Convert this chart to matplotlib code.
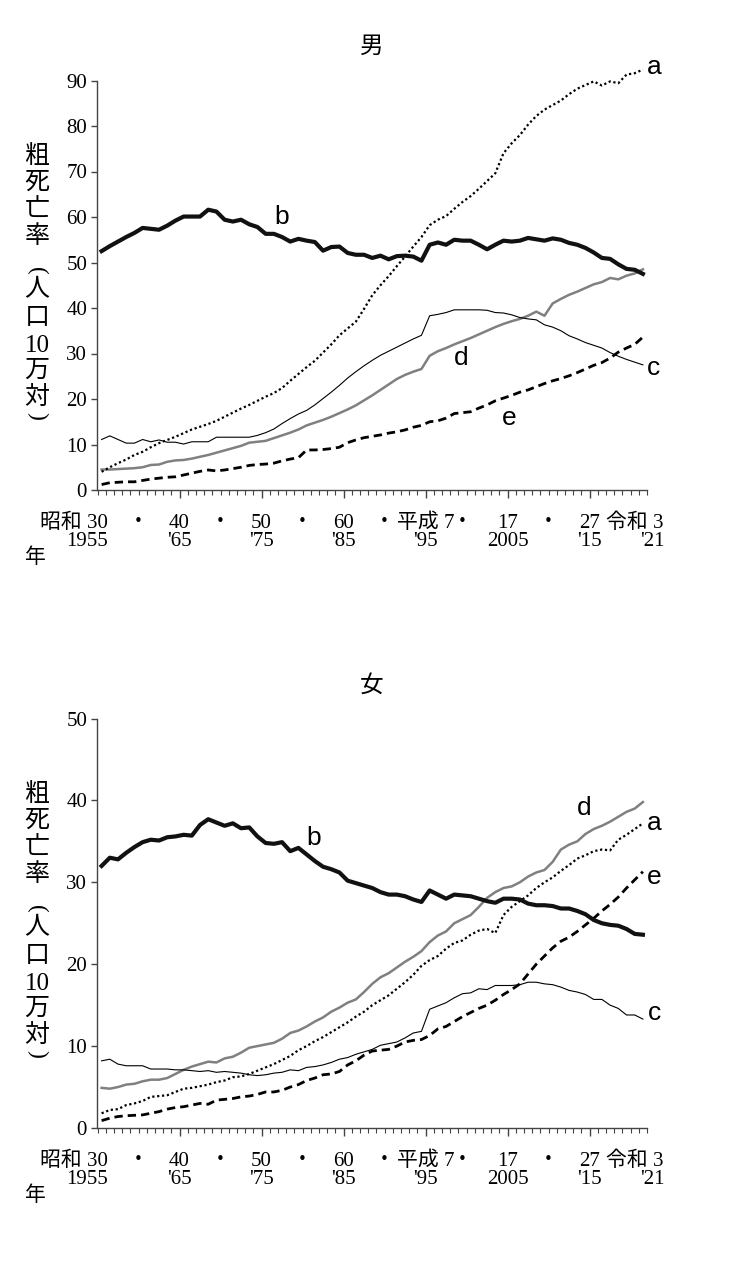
import numpy as np
import matplotlib
matplotlib.use("Agg")
import matplotlib.pyplot as plt
from matplotlib.transforms import offset_copy

# serif digits, japanese falls back to Noto CJK
plt.rcParams['font.family'] = ['Liberation Serif', 'Noto Sans CJK JP']

years = np.arange(1955, 2022)

# 男 (rate per 100,000)
male_a = [4.0, 5.0, 5.9, 6.7, 7.7, 8.4, 9.4, 10.3, 11.0, 11.7,
          12.5, 13.3, 13.9, 14.5, 15.2, 16.1, 17.0, 17.9, 18.7, 19.6,
          20.5, 21.3, 22.4, 24.0, 25.5, 27.0, 28.4, 30.2, 32.0, 34.0,
          35.5, 37.0, 39.8, 42.8, 45.0, 47.0, 49.2, 51.3, 53.5, 55.6,
          58.2, 59.4, 60.2, 61.8, 63.3, 64.6, 66.2, 67.9, 69.6, 74.0,
          76.2, 78.0, 80.3, 82.2, 83.6, 84.6, 85.6, 87.0, 88.2, 89.0,
          89.8, 88.9, 89.8, 89.4, 91.3, 91.6, 92.4]
male_b = [52.5, 53.6, 54.6, 55.6, 56.5, 57.6, 57.4, 57.2, 58.1, 59.2,
          60.1, 60.1, 60.1, 61.6, 61.2, 59.4, 59.0, 59.4, 58.4, 57.8,
          56.3, 56.3, 55.6, 54.6, 55.2, 54.8, 54.5, 52.6, 53.4, 53.5,
          52.1, 51.7, 51.7, 51.0, 51.5, 50.7, 51.4, 51.5, 51.3, 50.4,
          53.9, 54.4, 53.9, 55.0, 54.8, 54.8, 53.9, 52.9, 53.9, 54.8,
          54.6, 54.8, 55.4, 55.1, 54.8, 55.3, 55.0, 54.3, 53.9, 53.2,
          52.2, 51.0, 50.8, 49.6, 48.6, 48.4, 47.5]
male_c = [11.1, 11.9, 11.1, 10.3, 10.3, 11.1, 10.6, 11.0, 10.5, 10.5,
          10.1, 10.6, 10.6, 10.6, 11.6, 11.6, 11.6, 11.6, 11.6, 12.0,
          12.6, 13.4, 14.6, 15.7, 16.7, 17.5, 18.7, 20.1, 21.5, 23.0,
          24.6, 26.0, 27.3, 28.5, 29.6, 30.5, 31.4, 32.3, 33.2, 34.0,
          38.3, 38.6, 39.0, 39.6, 39.6, 39.6, 39.6, 39.5, 39.0, 38.9,
          38.5, 37.9, 37.6, 37.4, 36.3, 35.8, 35.0, 33.9, 33.2, 32.4,
          31.8, 31.2, 30.2, 29.4, 28.7, 28.1, 27.5]
male_d = [4.5, 4.5, 4.6, 4.7, 4.8, 5.0, 5.5, 5.6, 6.2, 6.5,
          6.6, 6.9, 7.3, 7.7, 8.2, 8.7, 9.2, 9.7, 10.4, 10.6,
          10.8, 11.4, 12.0, 12.6, 13.3, 14.2, 14.8, 15.4, 16.1, 16.9,
          17.7, 18.6, 19.7, 20.8, 22.0, 23.2, 24.4, 25.3, 26.0, 26.6,
          29.5, 30.5, 31.2, 32.0, 32.7, 33.4, 34.2, 35.0, 35.8, 36.5,
          37.1, 37.6, 38.3, 39.2, 38.3, 41.0, 42.0, 42.9, 43.6, 44.4,
          45.2, 45.7, 46.6, 46.3, 47.1, 47.6, 48.5]
male_e = [1.2, 1.6, 1.7, 1.8, 1.8, 2.1, 2.4, 2.6, 2.8, 2.9,
          3.3, 3.7, 4.1, 4.4, 4.2, 4.4, 4.7, 5.0, 5.4, 5.6,
          5.7, 5.9, 6.4, 6.8, 7.1, 8.8, 8.8, 8.9, 9.1, 9.4,
          10.4, 11.0, 11.5, 11.8, 12.1, 12.5, 12.8, 13.2, 13.8, 14.2,
          15.0, 15.2, 15.8, 16.8, 17.0, 17.2, 18.0, 18.7, 19.6, 20.2,
          20.8, 21.5, 22.0, 22.7, 23.4, 24.0, 24.5, 25.1, 25.8, 26.6,
          27.4, 28.0, 29.0, 30.3, 31.2, 32.0, 33.6]

# 女
female_a = [1.8, 2.2, 2.3, 2.8, 3.0, 3.3, 3.8, 3.9, 4.0, 4.4,
            4.8, 4.9, 5.1, 5.3, 5.6, 5.8, 6.2, 6.3, 6.6, 7.0,
            7.4, 7.8, 8.3, 8.8, 9.5, 10.0, 10.6, 11.1, 11.7, 12.3,
            12.9, 13.6, 14.2, 15.0, 15.6, 16.2, 17.0, 17.8, 18.7, 19.8,
            20.5, 21.0, 21.9, 22.6, 22.9, 23.6, 24.1, 24.3, 23.8, 26.0,
            27.0, 27.7, 28.4, 29.3, 30.0, 30.6, 31.4, 32.1, 32.9, 33.3,
            33.8, 34.0, 33.9, 35.2, 35.8, 36.5, 37.2]
female_b = [32.0, 33.0, 32.8, 33.6, 34.3, 34.9, 35.2, 35.1, 35.5, 35.6,
            35.8, 35.7, 37.0, 37.7, 37.3, 36.9, 37.2, 36.6, 36.7, 35.6,
            34.8, 34.7, 34.9, 33.8, 34.2, 33.4, 32.6, 31.9, 31.6, 31.2,
            30.2, 29.9, 29.6, 29.3, 28.8, 28.5, 28.5, 28.3, 27.9, 27.6,
            29.0, 28.5, 28.0, 28.5, 28.4, 28.3, 28.0, 27.7, 27.5, 28.0,
            28.0, 27.9, 27.4, 27.2, 27.2, 27.1, 26.8, 26.8, 26.5, 26.1,
            25.4, 25.0, 24.8, 24.7, 24.3, 23.7, 23.6]
female_c = [8.2, 8.4, 7.8, 7.6, 7.6, 7.6, 7.2, 7.2, 7.2, 7.1,
            7.1, 7.0, 6.9, 7.0, 6.8, 6.9, 6.8, 6.7, 6.5, 6.4,
            6.5, 6.7, 6.8, 7.1, 7.0, 7.4, 7.5, 7.7, 8.0, 8.4,
            8.6, 9.0, 9.3, 9.6, 10.1, 10.3, 10.5, 11.0, 11.6, 11.8,
            14.5, 14.9, 15.3, 15.9, 16.4, 16.5, 17.0, 16.9, 17.4, 17.4,
            17.4, 17.5, 17.8, 17.8, 17.6, 17.5, 17.2, 16.8, 16.6, 16.3,
            15.7, 15.7, 15.0, 14.6, 13.8, 13.8, 13.3]
female_d = [4.9, 4.8, 5.0, 5.3, 5.4, 5.7, 5.9, 5.9, 6.1, 6.6,
            7.1, 7.5, 7.8, 8.1, 8.0, 8.5, 8.7, 9.2, 9.8, 10.0,
            10.2, 10.4, 10.9, 11.6, 11.9, 12.4, 13.0, 13.5, 14.2, 14.7,
            15.3, 15.7, 16.6, 17.6, 18.4, 18.9, 19.6, 20.3, 20.9, 21.6,
            22.7, 23.5, 24.0, 25.0, 25.5, 26.0, 27.0, 28.1, 28.8, 29.3,
            29.5, 30.0, 30.7, 31.2, 31.5, 32.5, 34.0, 34.6, 35.0, 35.9,
            36.5, 36.9, 37.4, 38.0, 38.6, 39.0, 39.8]
female_e = [0.9, 1.2, 1.4, 1.5, 1.55, 1.6, 1.8, 2.0, 2.3, 2.5,
            2.6, 2.8, 3.0, 2.9, 3.4, 3.5, 3.6, 3.8, 3.9, 4.1,
            4.4, 4.4, 4.6, 5.0, 5.3, 5.8, 6.1, 6.5, 6.6, 6.9,
            7.7, 8.2, 8.9, 9.4, 9.5, 9.6, 10.0, 10.5, 10.7, 10.8,
            11.3, 12.1, 12.4, 13.0, 13.6, 14.1, 14.6, 15.0, 15.6, 16.3,
            16.9, 17.6, 18.8, 20.0, 21.0, 22.0, 22.8, 23.3, 24.0, 24.8,
            25.6, 26.5, 27.3, 28.2, 29.3, 30.3, 31.3]

# x axis labels (two rows under the axis)
era_pos = [1955.8, 1959.5, 1964.5, 1969.5, 1974.5, 1979.5, 1984.5, 1989.5,
           1994.5, 1999.0, 2004.5, 2009.5, 2014.5, 2023.5]
era_text = ['昭和 30', '・', '40', '・', '50', '・', '60', '・',
            '平成 7', '・', '17', '・', '27', '令和 3']
yr_pos = [1955.8, 1964.5, 1974.5, 1984.5, 1994.5, 2004.5, 2014.5, 2022.1]
yr_text = ['1955', "'65", "'75", "'85", "'95", '2005', "'15", "'21"]

# vertical y label, one character per row; brackets are turned sideways
ylab_chars = ['粗', '死', '亡', '率', '(', '人', '口', '10', '万', '対', ')']
ylab_off = [-333, -307, -280, -253, -219, -200, -172, -144, -119, -93, -74]

W, H = 742, 1274
fig = plt.figure(figsize=(W / 100, H / 100), dpi=100)


def draw_panel(bottom_px, ymax, title, series, labels):
    top_px = bottom_px - 409.5
    ax = fig.add_axes([97.5 / W, 1 - bottom_px / H, 549.5 / W, 409.5 / H])
    a, b, c, d, e = series
    ax.plot(years, d, color='#808080', lw=1.8, clip_on=False)
    ax.plot(years, c, color='black', lw=0.8, clip_on=False)
    ax.plot(years, e, color='black', lw=2.0, linestyle=(0, (3, 1.8)),
            clip_on=False)
    ax.plot(years, a, color='black', lw=1.6, linestyle=(0, (1, 1.2)),
            clip_on=False)
    ax.plot(years, b, color='#111111', lw=3.0, clip_on=False)

    ax.set_xlim(1954.5, 2021.5)
    ax.set_ylim(0, ymax)
    for s in ['top', 'right']:
        ax.spines[s].set_visible(False)
    for s in ['left', 'bottom']:
        ax.spines[s].set_color('#444444')
        ax.spines[s].set_linewidth(1.0)
    ax.set_xticks(np.arange(1964.5, 2021, 10))
    ax.set_xticks(np.arange(1954.5, 2022, 1), minor=True)
    ax.tick_params(axis='x', which='major', length=6, width=1, color='#444444',
                   labelbottom=False)
    ax.tick_params(axis='x', which='minor', length=3.5, width=0.8, color='#444444')
    ax.set_yticks(np.arange(0, ymax + 1, 10))
    ax.tick_params(axis='y', length=4, width=1, color='#444444', pad=3.5,
                   labelsize=15)

    # era / year labels
    row1 = offset_copy(ax.get_xaxis_transform(), fig=fig, y=-33, units='dots')
    row2 = offset_copy(ax.get_xaxis_transform(), fig=fig, y=-52, units='dots')
    for i, (x, t) in enumerate(zip(era_pos, era_text)):
        ha = 'right' if i in (0, len(era_text) - 1) else 'center'
        ax.text(x, 0, t, transform=row1, ha=ha, va='center', fontsize=15)
    for i, (x, t) in enumerate(zip(yr_pos, yr_text)):
        ha = 'right' if i == 0 else 'center'
        ax.text(x, 0, t, transform=row2, ha=ha, va='center', fontsize=15)

    fig.text(35 / W, 1 - (bottom_px + 68) / H, '年', ha='center', va='center',
             fontsize=15)
    fig.text(372 / W, 1 - (top_px - 33) / H, title, ha='center', va='center',
             fontsize=17)
    for ch, off in zip(ylab_chars, ylab_off):
        if ch in '()':
            # sideways bracket as in vertical typesetting
            fig.text(37 / W, 1 - (bottom_px + off) / H, ch, ha='center',
                     va='center', fontsize=17, rotation=-90,
                     family='Liberation Serif')
        else:
            fig.text(37 / W, 1 - (bottom_px + off) / H, ch, ha='center',
                     va='center', fontsize=18)

    for t, x, y in labels:
        ax.text(x, y, t, ha='center', va='center', fontsize=19,
                family='Liberation Sans')
    return ax


draw_panel(490, 90, '男', [male_a, male_b, male_c, male_d, male_e],
           [('a', 2022.4, 92.9), ('b', 1977.0, 59.9), ('c', 2022.3, 26.8),
            ('d', 1998.9, 29.0), ('e', 2004.7, 15.8)])
draw_panel(1128, 50, '女', [female_a, female_b, female_c, female_d, female_e],
           [('b', 1980.9, 35.4), ('d', 2013.8, 39.1), ('a', 2022.4, 37.2),
            ('e', 2022.4, 30.7), ('c', 2022.4, 14.1)])

fig.savefig('out.png', dpi=100)
